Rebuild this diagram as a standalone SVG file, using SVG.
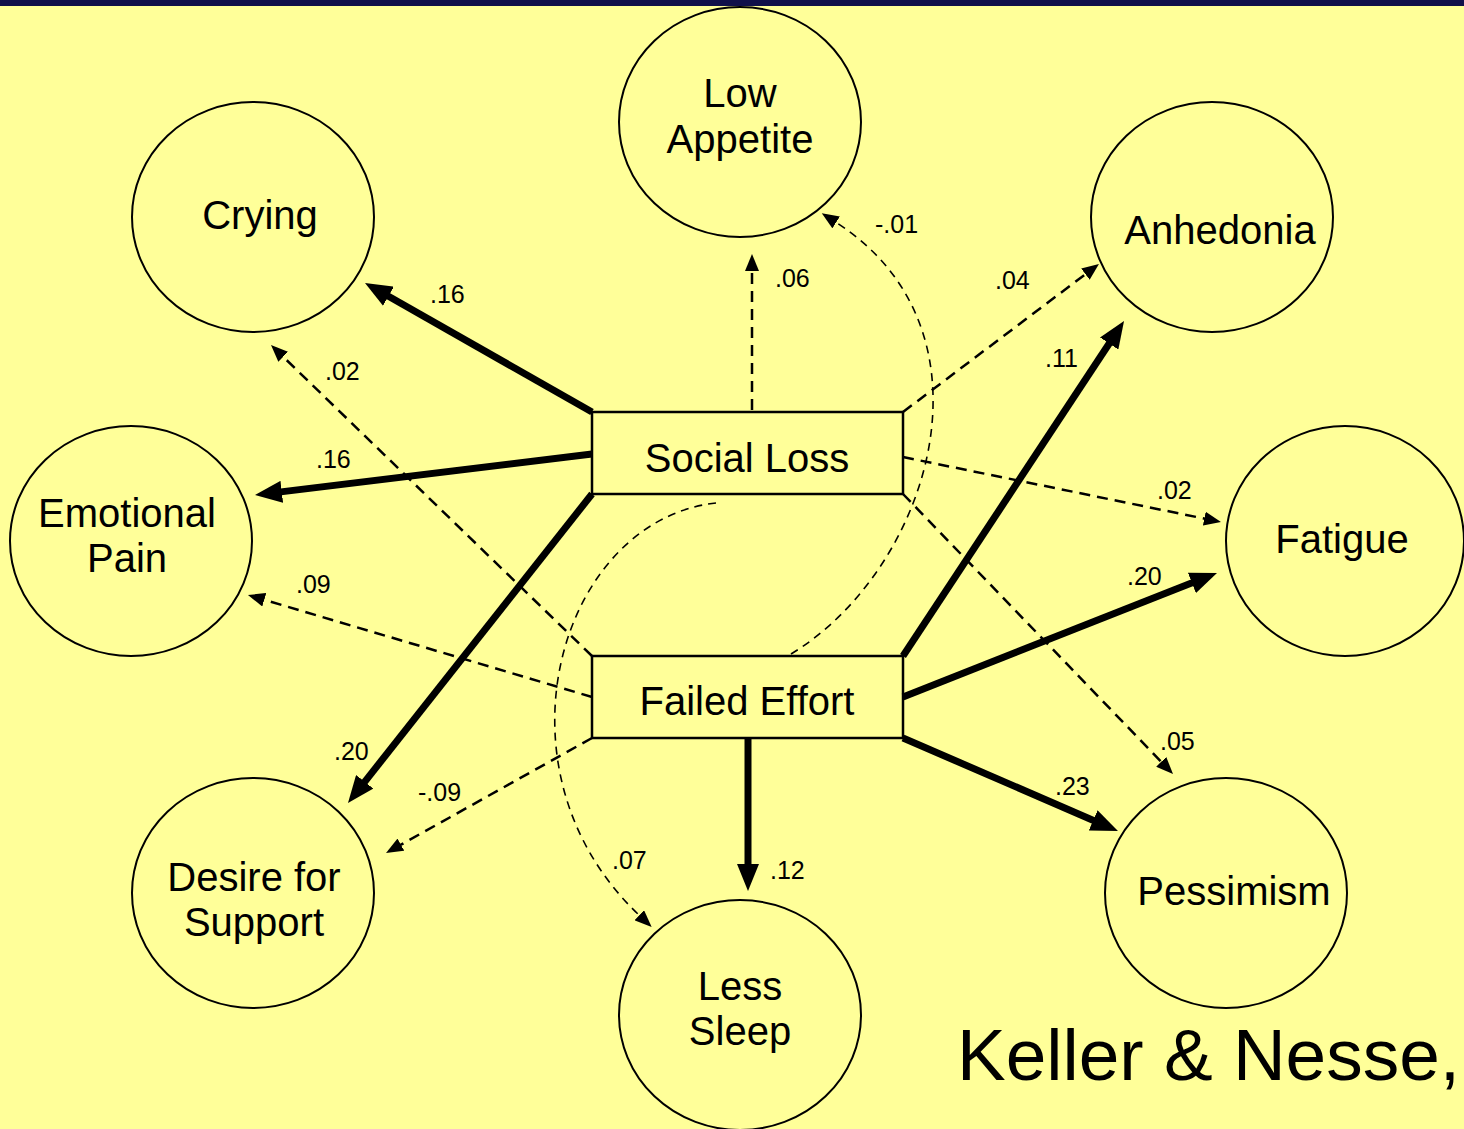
<svg xmlns="http://www.w3.org/2000/svg" width="1464" height="1129" viewBox="0 0 1464 1129">
<style>
.node{fill:none;stroke:#000;stroke-width:2}
.box{fill:none;stroke:#000;stroke-width:2.5}
.lbl{font-family:"Liberation Sans",Arial,sans-serif;font-size:40px;fill:#000;text-anchor:middle}
.num{font-family:"Liberation Sans",Arial,sans-serif;font-size:25px;fill:#000}
.solid{stroke:#000;stroke-width:7;fill:none;marker-end:url(#big)}
.dash{stroke:#000;stroke-width:2.5;fill:none;stroke-dasharray:11 7;marker-end:url(#small)}
.curve{stroke:#000;stroke-width:1.6;fill:none;stroke-dasharray:8 6;marker-end:url(#small)}
</style>
<defs>
<marker id="big" markerUnits="userSpaceOnUse" markerWidth="28" markerHeight="22" refX="1" refY="11" orient="auto">
<path d="M0,0 L27,11 L0,22 z" fill="#000"/>
</marker>
<marker id="small" markerUnits="userSpaceOnUse" markerWidth="18" markerHeight="14" refX="1" refY="7" orient="auto">
<path d="M0,0 L17,7 L0,14 z" fill="#000"/>
</marker>
</defs>
<rect x="0" y="0" width="1464" height="1129" fill="#FFFF99"/>
<rect x="0" y="0" width="1464" height="6" fill="#10104A"/>

<g id="connectors">
<line class="solid" x1="592" y1="412" x2="387.6" y2="295.8"/>
<line class="solid" x1="592" y1="454" x2="280.8" y2="491.9"/>
<line class="solid" x1="592" y1="494" x2="364.1" y2="782.6"/>
<line class="solid" x1="903" y1="656" x2="1109.7" y2="342.7"/>
<line class="solid" x1="903" y1="697" x2="1192.8" y2="582.5"/>
<line class="solid" x1="903" y1="738" x2="1094.1" y2="820.7"/>
<line class="solid" x1="748" y1="738" x2="748" y2="865"/>
<line class="dash" x1="752" y1="410" x2="752" y2="270"/>
<line class="dash" x1="903" y1="412" x2="1086.2" y2="273.6"/>
<line class="dash" x1="903" y1="457" x2="1205.3" y2="518.8"/>
<line class="dash" x1="903" y1="494" x2="1161.9" y2="762.5"/>
<line class="dash" x1="592" y1="656" x2="282.5" y2="356.1"/>
<line class="dash" x1="592" y1="697" x2="263.3" y2="599.5"/>
<line class="dash" x1="592" y1="738" x2="400" y2="845.2"/>
<path class="curve" d="M716,503 C560,520 485,770 640,916"/>
<path class="curve" d="M791,654 C930,570 1005,330 835.3,221.9"/>
</g>

<g id="edge-labels">
<text class="num" x="430" y="303">.16</text>
<text class="num" x="775" y="287">.06</text>
<text class="num" x="875" y="233">-.01</text>
<text class="num" x="995" y="289">.04</text>
<text class="num" x="325" y="380">.02</text>
<text class="num" x="1045" y="367">.11</text>
<text class="num" x="316" y="468">.16</text>
<text class="num" x="1157" y="499">.02</text>
<text class="num" x="296" y="593">.09</text>
<text class="num" x="1127" y="585">.20</text>
<text class="num" x="334" y="760">.20</text>
<text class="num" x="1160" y="750">.05</text>
<text class="num" x="418" y="801">-.09</text>
<text class="num" x="1055" y="795">.23</text>
<text class="num" x="612" y="869">.07</text>
<text class="num" x="770" y="879">.12</text>
</g>

<g id="node-low-appetite">
<ellipse class="node" cx="740" cy="122" rx="121" ry="115"/>
<text class="lbl" x="740" y="107">Low</text>
<text class="lbl" x="740" y="153">Appetite</text>
</g>
<g id="node-crying">
<ellipse class="node" cx="253" cy="217" rx="121" ry="115"/>
<text class="lbl" x="260" y="229">Crying</text>
</g>
<g id="node-anhedonia">
<ellipse class="node" cx="1212" cy="217" rx="121" ry="115"/>
<text class="lbl" x="1220" y="244">Anhedonia</text>
</g>
<g id="node-emotional-pain">
<ellipse class="node" cx="131" cy="541" rx="121" ry="115"/>
<text class="lbl" x="127" y="527">Emotional</text>
<text class="lbl" x="127" y="572">Pain</text>
</g>
<g id="node-fatigue">
<ellipse class="node" cx="1345" cy="541" rx="119" ry="115"/>
<text class="lbl" x="1342" y="553">Fatigue</text>
</g>
<g id="node-desire-support">
<ellipse class="node" cx="253" cy="893" rx="121" ry="115"/>
<text class="lbl" x="254" y="891">Desire for</text>
<text class="lbl" x="254" y="936">Support</text>
</g>
<g id="node-less-sleep">
<ellipse class="node" cx="740" cy="1015" rx="121" ry="115"/>
<text class="lbl" x="740" y="1000">Less</text>
<text class="lbl" x="740" y="1045">Sleep</text>
</g>
<g id="node-pessimism">
<ellipse class="node" cx="1226" cy="893" rx="121" ry="115"/>
<text class="lbl" x="1234" y="905">Pessimism</text>
</g>
<g id="node-social-loss">
<rect class="box" x="592" y="412" width="311" height="82" fill="#FFFF99"/>
<text class="lbl" x="747" y="472">Social Loss</text>
</g>
<g id="node-failed-effort">
<rect class="box" x="592" y="656" width="311" height="82" fill="#FFFF99"/>
<text class="lbl" x="747" y="715">Failed Effort</text>
</g>
<text x="957" y="1080" font-family="Liberation Sans, Arial, sans-serif" font-size="73" fill="#000">Keller &amp; Nesse,</text>
</svg>
